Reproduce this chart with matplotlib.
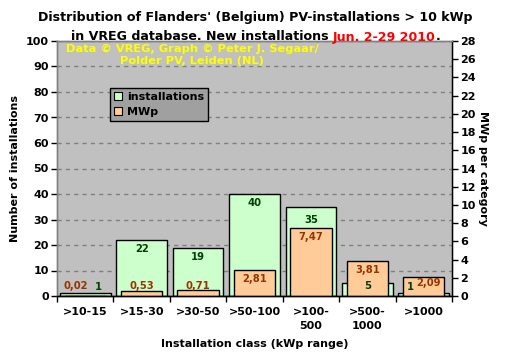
import matplotlib
matplotlib.use("Agg")
import matplotlib.pyplot as plt
from matplotlib.lines import Line2D
import numpy as np

categories = [">10-15", ">15-30", ">30-50", ">50-100", ">100-\n500", ">500-\n1000", ">1000"]
installations = [1, 22, 19, 40, 35, 5, 1]
mwp = [0.02, 0.53, 0.71, 2.81, 7.47, 3.81, 2.09]
mwp_labels = ["0,02", "0,53", "0,71", "2,81", "7,47", "3,81", "2,09"]

# label nudges (pixels) to avoid overlaps
green_dx = [13, 0, 0, 0, 0, 0, -13]
orange_dx = [-9, 0, 0, 0, 0, 0, 5]
green_dy_extra = [-1, 0, 0, 0, -4, 0, -1]
orange_dy_extra = [0, 0, 0, 0, 0, 0, 3]

GREEN = "#CCFFCC"
ORANGE = "#FFCC99"
GREEN_TXT = "#004000"
ORANGE_TXT = "#993300"

plt.rcParams['font.family'] = ['DejaVu Sans']
plt.rcParams['font.weight'] = 'bold'

fig = plt.figure(figsize=(5.11, 3.61), dpi=100)
fig.patch.set_facecolor("white")
ax = fig.add_axes([57/511, 1-296/361, (452-57)/511, (296-41)/361])
ax.set_facecolor("#C0C0C0")
x = np.arange(len(categories))

ax.bar(x, installations, width=0.9, color=GREEN, edgecolor="black", linewidth=1, zorder=2)
ax.set_ylim(0, 100)
ax.set_xlim(-0.5, len(categories) - 0.5)
ax.set_yticks(np.arange(0, 101, 10))
ax.yaxis.grid(True, linestyle=(0, (3, 3)), color="#808080", linewidth=1, zorder=0)
ax.set_axisbelow(True)

ax2 = ax.twinx()
ax2.bar(x, mwp, width=0.73, color=ORANGE, edgecolor="black", linewidth=1, zorder=2)
ax2.set_ylim(0, 28)
ax2.set_yticks(np.arange(0, 29, 2))

for a in (ax, ax2):
    for s in a.spines.values():
        s.set_color("#808080")
        s.set_linewidth(1)
    a.tick_params(axis='y', direction='out', length=4, width=1, color='black', labelsize=8, pad=2)
ax.spines['bottom'].set_color('black')
ax2.spines['bottom'].set_color('black')
ax2.spines['right'].set_color('black')

ax.set_xticks(np.arange(-0.5, len(categories), 1))
ax.set_xticklabels([])
ax.set_xticks(x, minor=True)
ax.set_xticklabels(categories, minor=True, fontsize=8, fontweight='bold', linespacing=1.5)
ax.tick_params(axis='x', which='major', direction='out', length=4, width=1, color='black')
ax.tick_params(axis='x', which='minor', length=0, pad=8)

for lbl in ax.get_yticklabels() + ax2.get_yticklabels():
    lbl.set_fontweight('bold')

ax.set_ylabel("Number of installations", fontsize=8, fontweight='bold', labelpad=4)
ax2.set_ylabel("MWp per category", fontsize=8, fontweight='bold', rotation=-90, labelpad=9)
ax.set_xlabel("Installation class (kWp range)", fontsize=8, fontweight='bold', labelpad=6)

# data labels
def place(axis_src, xi, val, txt, color, dx, dy_extra):
    base_px = axis_src.transData.transform((xi, 0))[1]
    top_px = axis_src.transData.transform((xi, val))[1]
    y_px = max(top_px - 9, base_px + 10)
    dy = y_px - top_px + dy_extra
    ax2.annotate(txt, xy=(xi, val), xycoords=axis_src.transData,
                 xytext=(dx, dy), textcoords='offset pixels',
                 ha='center', va='center', fontsize=7.2, fontweight='bold',
                 color=color, zorder=5)

for i in range(len(categories)):
    place(ax2, x[i], mwp[i], mwp_labels[i], ORANGE_TXT, orange_dx[i], orange_dy_extra[i])
    place(ax, x[i], installations[i], str(installations[i]), GREEN_TXT, green_dx[i], green_dy_extra[i])

# copyright text
ax2.text((192-57)/395, (296-44)/255, "Data \u00a9 VREG, Graph \u00a9 Peter J. Segaar/\nPolder PV, Leiden (NL)",
         transform=ax.transAxes, ha='center', va='top', color='#FFFF00',
         fontsize=8.2, fontweight='bold', linespacing=1.2, zorder=6)

# legend
handles = [Line2D([], [], marker='s', linestyle='none', markerfacecolor=GREEN,
                  markeredgecolor='black', markersize=6, markeredgewidth=0.8),
           Line2D([], [], marker='s', linestyle='none', markerfacecolor=ORANGE,
                  markeredgecolor='black', markersize=6, markeredgewidth=0.8)]
leg = ax2.legend(handles, ["installations", "MWp"], loc='upper left',
                 bbox_to_anchor=((110-57)/395, (296-88)/255), fontsize=8,
                 frameon=True, fancybox=False, framealpha=1, edgecolor='black',
                 facecolor='#A0A0A0', handlelength=0.8, handletextpad=0.4,
                 borderpad=0.35, labelspacing=0.45, borderaxespad=0)
for t in leg.get_texts():
    t.set_fontweight('bold')
leg.set_zorder(7)

TFS = 9.1
fig.text(0.5, 1-18/361, "Distribution of Flanders' (Belgium) PV-installations > 10 kWp",
         ha='center', va='center', fontsize=TFS, fontweight='bold')

# second title line with red part
fig.canvas.draw()
r = fig.canvas.get_renderer()
parts = [("in VREG database. New installations ", "black"), ("Jun. 2-29 2010", "red"), (".", "black")]

def measure(s):
    tt = fig.text(0, 0, s, fontsize=TFS, fontweight='bold')
    w = tt.get_window_extent(renderer=r).width
    tt.remove()
    return w

ref_w = measure("||")
widths = [measure("|" + s + "|") - ref_w for s, _ in parts]
total = sum(widths)
cur = (511 - total) / 2
for (s, c), w in zip(parts, widths):
    fig.text(cur / 511, 1 - 37/361, s, ha='left', va='center', fontsize=TFS,
             fontweight='bold', color=c)
    cur += w

fig.savefig("out.png", dpi=100, facecolor=fig.get_facecolor())
